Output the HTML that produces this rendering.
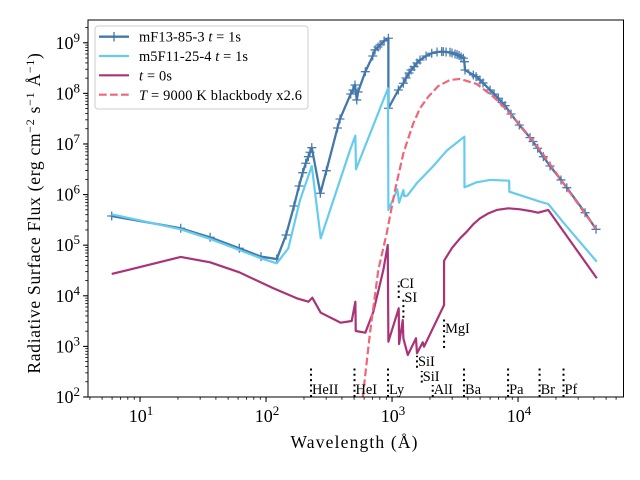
<!DOCTYPE html>
<html lang="en">
<head>
<meta charset="utf-8">
<title>Radiative Surface Flux vs Wavelength</title>
<style>
html,body{margin:0;padding:0;background:#fff;width:640px;height:480px;overflow:hidden}
svg{display:block}
text{font-family:"Liberation Serif","DejaVu Serif",serif;fill:#000}
</style>
</head>
<body>
<svg id="chart" xmlns="http://www.w3.org/2000/svg" width="640" height="480" viewBox="0 0 640 480">
<defs><clipPath id="plot-clip"><rect x="88" y="20" width="535.5" height="377"/></clipPath></defs>
<rect x="0" y="0" width="640" height="480" fill="#fff"/>
<g id="marks" clip-path="url(#plot-clip)"></g>
<g id="annotations"></g>
<g id="axes"></g>
<text x="354" y="448" font-size="17.5" text-anchor="middle" textLength="127">Wavelength (Å)</text>
<text transform="translate(40,213) rotate(-90)" font-size="17.5" text-anchor="middle" letter-spacing="0.72">Radiative Surface Flux (erg cm<tspan font-size="12" dy="-6">−2</tspan><tspan dy="6"> s</tspan><tspan font-size="12" dy="-6">−1</tspan><tspan dy="6"> Å</tspan><tspan font-size="12" dy="-6">−1</tspan><tspan dy="6">)</tspan></text>
<g>
<rect x="95" y="26" width="213" height="83" rx="3" fill="#fff" fill-opacity="0.8" stroke="#ccc" stroke-width="1"/>
<g>
<line x1="99" x2="129" y1="36.7" y2="36.7" stroke="#4477aa" stroke-width="2.4"/>
<line x1="114" x2="114" y1="32" y2="41.5" stroke="#4477aa" stroke-width="1.3"/>
<text x="139" y="41.5" font-size="14.4" textLength="102">mF13-85-3 <tspan font-style="italic">t</tspan> = 1s</text>
</g>
<g>
<line x1="99" x2="129" y1="56" y2="56" stroke="#66ccee" stroke-width="2.2"/>
<text x="139" y="61" font-size="14.4" textLength="109">m5F11-25-4 <tspan font-style="italic">t</tspan> = 1s</text>
</g>
<g>
<line x1="99" x2="129" y1="75.3" y2="75.3" stroke="#aa3377" stroke-width="2.2"/>
<text x="139" y="80.5" font-size="14.4" textLength="33"><tspan font-style="italic">t</tspan> = 0s</text>
</g>
<g>
<line x1="99" x2="129" y1="94.7" y2="94.7" stroke="#ee6677" stroke-width="2.2" stroke-dasharray="7.7 3.3"/>
<text x="139" y="100" font-size="14.4" textLength="163"><tspan font-style="italic">T</tspan> = 9000 K blackbody x2.6</text>
</g>
</g>
</svg>
<script>
var mf13LogWave = [0.775,1.323,1.556,1.788,1.960,2.085,2.159,2.222,2.262,2.291,2.315,2.336,2.349,2.363,2.431,2.479,2.567,2.587,2.672,2.690,2.706,2.720,2.730,2.788,2.847,2.865,2.889,2.905,2.937,2.971,2.971,3.050,3.090,3.111,3.135,3.151,3.175,3.198,3.222,3.270,3.315,3.357,3.394,3.407,3.429,3.460,3.476,3.500,3.516,3.532,3.548,3.566,3.574,3.579,3.645,3.667,3.698,3.722,3.778,3.810,3.844,3.873,3.897,3.944,4.010,4.095,4.119,4.156,4.201,4.254,4.341,4.387,4.532,4.619];
var mf13LogFlux = [5.577,5.334,5.156,4.939,4.773,4.727,5.202,5.775,6.170,6.433,6.619,6.749,6.836,6.927,6.026,6.472,7.316,7.494,7.988,8.067,8.166,7.870,8.028,8.429,8.739,8.858,8.917,8.957,9.036,9.089,7.706,8.067,8.200,8.304,8.403,8.462,8.528,8.601,8.660,8.739,8.792,8.818,8.824,8.824,8.818,8.812,8.798,8.779,8.765,8.749,8.719,8.694,8.626,8.462,8.364,8.330,8.265,8.206,8.067,7.988,7.903,7.820,7.757,7.593,7.375,7.125,7.049,6.915,6.749,6.565,6.289,6.136,5.642,5.314];
var m5f11LogWave = [0.775,1.323,1.556,1.788,1.960,2.085,2.177,2.270,2.363,2.434,2.667,2.709,2.714,2.968,2.971,3.042,3.056,3.090,3.095,3.121,3.196,3.328,3.434,3.574,3.575,3.672,3.778,3.929,3.931,4.175,4.240,4.365,4.625];
var m5f11LogFlux = [5.611,5.314,5.123,4.905,4.741,4.642,4.939,5.893,6.565,5.136,6.881,7.164,6.500,8.101,5.696,6.105,5.840,6.091,5.972,5.978,6.223,6.565,6.868,7.144,6.144,6.243,6.289,6.275,6.057,5.860,5.814,5.433,4.674];
var initialLogWave = [0.775,1.323,1.556,1.788,2.058,2.244,2.336,2.367,2.434,2.593,2.680,2.709,2.712,2.788,2.852,2.931,2.966,2.971,3.053,3.056,3.085,3.090,3.125,3.190,3.198,3.244,3.254,3.413,3.413,3.476,3.540,3.593,3.643,3.698,3.762,3.831,3.923,4.016,4.095,4.159,4.240,4.625];
var initialLogFlux = [4.431,4.767,4.662,4.464,4.148,3.951,3.883,3.962,3.666,3.468,3.502,3.883,3.304,3.271,3.686,4.510,5.004,3.093,3.753,3.047,3.522,3.160,2.830,3.160,2.864,3.081,2.994,3.818,4.694,4.945,5.136,5.267,5.409,5.532,5.626,5.696,5.729,5.709,5.676,5.642,5.696,4.346];
var blackbodyLogWave = [2.767,2.825,2.891,2.958,3.024,3.090,3.129,3.169,3.222,3.288,3.367,3.460,3.540,3.672,3.804,3.897,4.016,4.175,4.397,4.619];
var blackbodyLogFlux = [1.98,3.265,4.510,5.241,6.091,6.816,7.113,7.409,7.706,7.935,8.146,8.265,8.285,8.186,7.935,7.706,7.375,6.881,6.091,5.320];
var lineNames = ["HeII","HeI","Ly","AlI","Ba","Pa","Br","Pf","MgI","SiI","SiI","CI","SI"];
var lineLogWave = [2.357,2.702,2.968,3.323,3.571,3.921,4.171,4.361,3.413,3.198,3.236,3.053,3.090];
var lineLogLow = [2,2,2,2,2,2,2,2,2.968,2.579,2.283,3.957,3.567];
var lineLogHigh = [2.573,2.573,2.573,2.237,2.573,2.573,2.573,2.573,3.561,2.816,2.514,4.279,3.957];
var lineLabelLogFlux = [2.06,2.06,2.06,2.06,2.06,2.06,2.06,2.06,3.265,2.613,2.316,4.154,3.877];
var xTickExponents = [1,2,3,4];
var yTickExponents = [2,3,4,5,6,7,8,9];

var NS = "http://www.w3.org/2000/svg";
var xMin = 0.587, xMax = 4.837, yMin = 2, yMax = 9.45;
var plotL = 88, plotR = 623.5, plotB = 397, plotT = 20;
function xScale(v){ return plotL + (v - xMin) / (xMax - xMin) * (plotR - plotL); }
function yScale(v){ return plotB - (v - yMin) / (yMax - yMin) * (plotB - plotT); }
function make(tag, attrs, parent){
  var el = document.createElementNS(NS, tag);
  for (var k in attrs) el.setAttribute(k, attrs[k]);
  parent.appendChild(el);
  return el;
}
function pathFrom(xs, ys){
  var d = "";
  for (var i = 0; i < xs.length; i++) d += (i ? "L" : "M") + xScale(xs[i]).toFixed(2) + " " + yScale(ys[i]).toFixed(2);
  return d;
}
var marks = document.getElementById("marks");
var annotations = document.getElementById("annotations");
var axes = document.getElementById("axes");

var mf13Line = make("path", {d: pathFrom(mf13LogWave, mf13LogFlux), fill: "none", stroke: "#4477aa", "stroke-width": 2.3, "stroke-linejoin": "round"}, marks);


var mf13Markers = make("g", {stroke: "#4477aa", "stroke-width": 1.3, opacity: 0.95}, marks);


for (var i = 0; i < mf13LogWave.length; i++) {
  var px = xScale(mf13LogWave[i]), py = yScale(mf13LogFlux[i]);
  var mark = make("path", {d: "M" + (px - 4.5) + " " + py + "H" + (px + 4.5) + "M" + px + " " + (py - 4.5) + "V" + (py + 4.5), fill: "none"}, mf13Markers);
  
  
}
var m5f11Line = make("path", {d: pathFrom(m5f11LogWave, m5f11LogFlux), fill: "none", stroke: "#66ccee", "stroke-width": 2.2, "stroke-linejoin": "round"}, marks);


var initialLine = make("path", {d: pathFrom(initialLogWave, initialLogFlux), fill: "none", stroke: "#aa3377", "stroke-width": 2.2, "stroke-linejoin": "round"}, marks);


var blackbodyLine = make("path", {d: pathFrom(blackbodyLogWave, blackbodyLogFlux), fill: "none", stroke: "#ee6677", "stroke-width": 2.2, "stroke-dasharray": "7.7 3.3"}, marks);



for (var j = 0; j < lineNames.length; j++) {
  var lx = xScale(lineLogWave[j]);
  var vline = make("line", {x1: lx, x2: lx, y1: yScale(lineLogLow[j]), y2: yScale(lineLogHigh[j]), stroke: "#000", "stroke-width": 2, "stroke-dasharray": "2 3.3"}, annotations);
  
  
  var vlabel = make("text", {x: lx + 1, y: yScale(lineLabelLogFlux[j]), "font-size": 14.4}, annotations);
  
  
  vlabel.textContent = lineNames[j];
}

var frame = make("rect", {x: plotL, y: plotT, width: plotR - plotL, height: plotB - plotT, fill: "none", stroke: "#000", "stroke-width": 1}, axes);



function tickLabel(base, exponent, x, y, anchor, name){
  var t = make("text", {x: x, y: y, "font-size": 18, "text-anchor": anchor}, axes);
  
  
  t.textContent = base;
  var s = make("tspan", {"font-size": 13, dy: -7}, t);
  s.textContent = exponent;
}
for (var d = 0; d <= 4; d++) {
  for (var m = 1; m < 10; m++) {
    var xv = d + Math.log10(m);
    if (xv < xMin || xv > xMax) continue;
    var tx = xScale(xv), xLen = m === 1 ? 4.9 : 2.8;
    var xt = make("line", {x1: tx, x2: tx, y1: plotB, y2: plotB + xLen, stroke: "#000", "stroke-width": m === 1 ? 1.1 : 0.8}, axes);
    
    
  }
}
for (var e = 2; e <= 9; e++) {
  for (var n = 1; n < 10; n++) {
    var yv = e + Math.log10(n);
    if (yv < yMin || yv > yMax) continue;
    var ty = yScale(yv), yLen = n === 1 ? 4.9 : 2.8;
    var yt = make("line", {x1: plotL, x2: plotL - yLen, y1: ty, y2: ty, stroke: "#000", "stroke-width": n === 1 ? 1.1 : 0.8}, axes);
    
    
  }
}
xTickExponents.forEach(function(v){ tickLabel("10", String(v), xScale(v) + 1, 422, "middle", "x-tick-label"); });
yTickExponents.forEach(function(v){ tickLabel("10", String(v), 80, yScale(v) + 6, "end", "y-tick-label"); });
</script>
</body>
</html>
